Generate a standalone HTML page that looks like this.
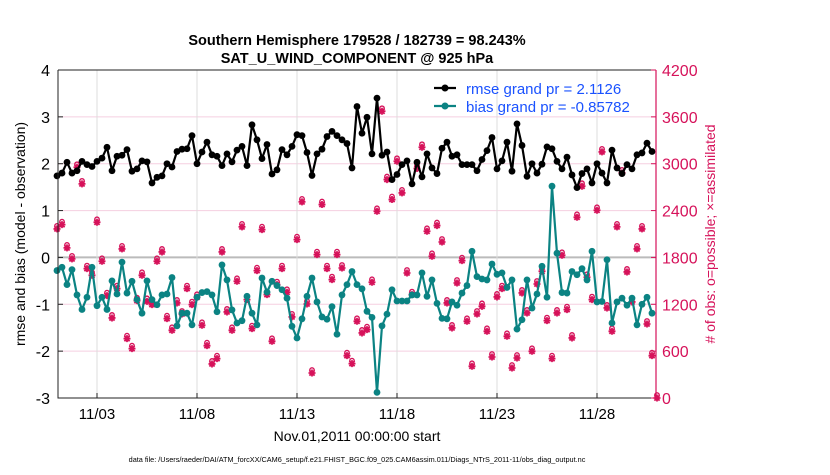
<!DOCTYPE html>
<html><head><meta charset="utf-8"><style>
body{margin:0;background:#fff;}
svg text{font-family:"Liberation Sans",Arial,sans-serif;}
</style></head><body>
<svg id="chart" width="830" height="470" xmlns="http://www.w3.org/2000/svg">
<rect width="830" height="470" fill="#fff"/>
<text x="357" y="45" text-anchor="middle" font-size="14.5" font-weight="bold">Southern Hemisphere 179528 / 182739 = 98.243%</text>
<text x="357" y="63" text-anchor="middle" font-size="14.5" font-weight="bold">SAT_U_WIND_COMPONENT @ 925 hPa</text>
<g id="grid"></g>
<g id="series"></g>
<g id="axes"></g>
<text transform="translate(25,234) rotate(-90)" text-anchor="middle" font-size="14">rmse and bias (model - observation)</text>
<text transform="translate(715,234) rotate(-90)" text-anchor="middle" font-size="14" fill="#d6125a"># of obs: o=possible; ×=assimilated</text>
<text x="357" y="441" text-anchor="middle" font-size="14">Nov.01,2011 00:00:00 start</text>
<text x="357" y="462" text-anchor="middle" font-size="7.3">data file: /Users/raeder/DAI/ATM_forcXX/CAM6_setup/f.e21.FHIST_BGC.f09_025.CAM6assim.011/Diags_NTrS_2011-11/obs_diag_output.nc</text>
<g>
<line x1="434" y1="88" x2="456" y2="88" stroke="#000" stroke-width="2.2"/><circle cx="445" cy="88" r="3.5" fill="#000"/>
<text x="466" y="94" font-size="15" fill="#1a52ff">rmse grand pr = 2.1126</text>
<line x1="434" y1="106" x2="456" y2="106" stroke="#0b8383" stroke-width="2.2"/><circle cx="445" cy="106" r="3.5" fill="#0b8383"/>
<text x="466" y="112" font-size="15" fill="#1a52ff">bias grand pr = -0.85782</text>
</g>
</svg>
<script>
const rmse=[1.74,1.80,2.03,1.80,1.85,2.05,1.98,1.94,2.05,2.12,2.35,1.85,2.16,2.18,2.30,1.84,1.89,2.06,2.04,1.59,1.71,1.74,2.0,1.93,2.26,2.31,2.32,2.6,2.0,2.25,2.46,2.19,2.16,1.96,2.21,2.04,2.29,2.37,1.96,2.83,2.51,2.11,
2.41,1.78,1.87,2.30,2.19,2.37,2.62,2.60,2.24,1.75,2.21,2.31,2.58,2.69,2.60,2.51,2.43,1.91,3.22,2.65,2.99,2.21,3.40,2.18,2.25,1.66,1.77,1.98,2.06,1.57,2.03,1.72,2.21,1.91,1.79,2.33,2.46,2.16,2.19,
1.98,1.98,1.98,1.85,2.09,2.28,2.56,1.89,2.06,2.46,1.84,2.85,2.39,1.73,2.0,1.80,1.99,2.36,2.32,2.05,1.89,2.14,1.76,1.49,1.79,1.89,1.59,2.0,1.80,1.59,2.29,1.91,1.79,1.98,1.89,2.19,2.23,2.44,2.26];
const bias=[-0.28,-0.21,-0.58,-0.26,-0.80,-1.11,-0.85,-0.21,-1.03,-0.85,-1.11,-0.50,-0.78,-0.10,-0.76,-0.51,-0.90,-1.19,-0.50,-0.90,-1.01,-0.80,-0.78,-0.43,-1.46,-1.19,-1.19,-1.44,-0.85,-0.75,-0.73,-0.80,-1.16,-0.16,-0.48,-1.12,-1.40,-1.35,-0.83,-1.19,-1.44,-0.44,
-0.74,-0.51,-0.60,-0.69,-0.87,-1.47,-1.72,-1.31,-0.83,-0.44,-0.95,-1.27,-1.32,-1.05,-1.64,-0.80,-0.58,-0.30,-0.58,-0.67,-1.15,-1.28,-2.88,-1.46,-1.21,-0.69,-0.93,-0.93,-0.93,-0.80,-0.80,-0.33,-0.83,-0.48,-0.98,-1.30,-1.31,-0.95,-1.02,
-0.76,-0.60,0.13,-0.41,-0.46,-0.48,-0.14,-0.36,-0.33,-0.64,-0.48,-1.53,-1.33,-0.48,-1.08,-0.78,-0.19,-0.85,1.52,0.09,-0.75,-0.76,-0.30,-0.37,-0.24,-0.48,0.13,-0.95,-0.94,-0.05,-1.40,-0.95,-0.87,-1.02,-0.87,-1.44,-1.00,-0.85,-1.19];
const obsCount=[2165,2220,1922,1781,2955,2742,1657,1571,2250,1751,1311,1025,1401,1909,760,632,1247,1571,1238,1196,1751,1870,1016,867,1217,1076,1401,1196,1290,931,670,436,504,1870,1102,867,1495,2191,1260,888,1631,2156,
1324,726,1452,1657,1354,1038,2028,2511,1204,320,1836,2477,1657,1516,1836,1665,542,440,982,833,875,1482,2391,3672,2797,2541,3032,2626,1601,1324,2938,3211,2135,1815,2208,1998,1217,897,1473,1759,
982,406,1076,1174,854,525,1294,1401,790,384,512,1345,1089,598,1460,1623,991,504,1089,1828,1132,769,2314,2712,1546,1260,2404,3151,1153,854,2191,2882,1614,1230,1909,2165,948,542,0];
const xTickLabels=["11/03","11/08","11/13","11/18","11/23","11/28"];
const xTickDays=[2,7,12,17,22,27];
const yLeftTicks=[-3,-2,-1,0,1,2,3,4];
const yRightTicks=[0,600,1200,1800,2400,3000,3600,4200];

const L=58,R=656,T=70,B=398;
const NS="http://www.w3.org/2000/svg";
const xDay=d=>57+d*20;
const xIdx=i=>xDay(i*0.25);
const yL=v=>B-(v+3)/7*(B-T);
const yR=c=>B-c/4200*(B-T);
function mk(tag,attrs,parent){const e=document.createElementNS(NS,tag);for(const k in attrs)e.setAttribute(k,attrs[k]);document.getElementById(parent).appendChild(e);return e;}
const MAG="#d6125a",TEAL="#0b8383";
yLeftTicks.forEach(v=>{const g=mk('line',{x1:L,x2:R,y1:yL(v),y2:yL(v),stroke:v===0?'#bbb':'#f5cfe0','stroke-width':v===0?2:1},'grid');

});
xTickDays.forEach(d=>{const g=mk('line',{x1:xDay(d),x2:xDay(d),y1:T,y2:B,stroke:'#ddd','stroke-width':1},'grid');

});
obsCount.forEach((c,i)=>{const x=xIdx(i),y=yR(c);
const o=mk('circle',{cx:x,cy:y-3,r:2.2,fill:'none',stroke:MAG,'stroke-width':1.4},'series');


const s=mk('path',{d:`M${x-3.5},${y}H${x+3.5}M${x},${y-3.5}V${y+3.5}M${x-2.6},${y-2.6}L${x+2.6},${y+2.6}M${x-2.6},${y+2.6}L${x+2.6},${y-2.6}`,stroke:MAG,'stroke-width':1.8,fill:'none'},'series');

});
function series(arr,color,name){
const p=mk('polyline',{points:arr.map((v,i)=>xIdx(i)+','+yL(v)).join(' '),fill:'none',stroke:color,'stroke-width':2.2,'stroke-linejoin':'round'},'series');


arr.forEach((v,i)=>{const c=mk('circle',{cx:xIdx(i),cy:yL(v),r:3.4,fill:color},'series');

});}
series(bias,TEAL,'bias');
series(rmse,'#000','rmse');
const fr=mk('path',{d:`M${L},${T}H${R}M${L},${T}V${B}H${R}`,fill:'none',stroke:'#222','stroke-width':1},'axes');


const ra=mk('line',{x1:R,x2:R,y1:T,y2:B,stroke:MAG,'stroke-width':1.2},'axes');


yLeftTicks.forEach(v=>{mk('line',{x1:L,x2:L+5,y1:yL(v),y2:yL(v),stroke:'#222'},'axes');
const t=mk('text',{x:L-8,y:yL(v)+6,'text-anchor':'end','font-size':16},'axes');t.textContent=v;

});
yRightTicks.forEach(c=>{mk('line',{x1:R-5,x2:R,y1:yR(c),y2:yR(c),stroke:MAG},'axes');
const t=mk('text',{x:R+6,y:yR(c)+6,'font-size':16,fill:MAG},'axes');t.textContent=c;

});
xTickDays.forEach((d,k)=>{mk('line',{x1:xDay(d),x2:xDay(d),y1:B-5,y2:B,stroke:'#222'},'axes');
const t=mk('text',{x:xDay(d),y:B+21,'text-anchor':'middle','font-size':15},'axes');t.textContent=xTickLabels[k];

});
</script>
</body></html>
